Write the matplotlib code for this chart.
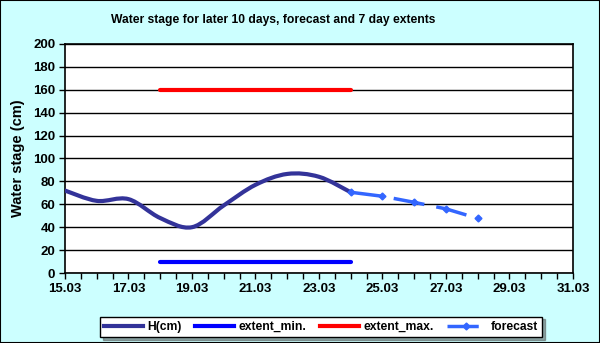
import numpy as np
import matplotlib.pyplot as plt
from matplotlib.path import Path
from matplotlib.patches import PathPatch, Rectangle
from matplotlib.lines import Line2D

plt.rcParams['font.family'] = ['Liberation Sans', 'DejaVu Sans']
plt.rcParams['font.weight'] = 'bold'

# data (day of March)
days_h = [15, 16, 17, 18, 19, 20, 21, 22, 23, 24]
h_cm = [72, 63, 64.5, 48, 40, 59, 77, 86.5, 84, 70.5]

ext_days = [18, 24]
ext_min = [10, 10]
ext_max = [160, 160]

days_fc = [24, 25, 26, 27, 28]
forecast = [70.5, 67, 61.7, 56, 47.7]

xtick_days = [15, 17, 19, 21, 23, 25, 27, 29, 31]
xtick_labels = ['15.03', '17.03', '19.03', '21.03', '23.03', '25.03', '27.03', '29.03', '31.03']
yticks = list(range(0, 201, 20))


def smooth_path(xs, ys, t=1/6):
    # Excel-like smoothed line as cubic bezier segments
    pts = np.column_stack([xs, ys]).astype(float)
    n = len(pts)
    verts = [pts[0]]
    codes = [Path.MOVETO]
    for i in range(n - 1):
        p0 = pts[i - 1] if i > 0 else pts[i]
        p1, p2 = pts[i], pts[i + 1]
        p3 = pts[i + 2] if i + 2 < n else pts[i + 1]
        c1 = p1 + (p2 - p0) * t
        c2 = p2 - (p3 - p1) * t
        verts += [c1, c2, p2]
        codes += [Path.CURVE4] * 3
    return Path(verts, codes)


fig = plt.figure(figsize=(6, 3.43), dpi=100, facecolor='#ccffff')
fig.patches.append(Rectangle((0, 0), 1, 1, transform=fig.transFigure, fill=False,
                             edgecolor='black', linewidth=1.5))
ax = fig.add_axes([0.1083, 0.204, 0.8467, 0.668])

ax.add_patch(PathPatch(smooth_path(days_h, h_cm), facecolor='none',
                       edgecolor='#333399', linewidth=3, capstyle='round', zorder=4))
ax.plot(ext_days, ext_min, color='#0000ff', linewidth=3, solid_capstyle='round', zorder=3)
ax.plot(ext_days, ext_max, color='#ff0000', linewidth=3, solid_capstyle='round', zorder=3)
ax.plot(days_fc, forecast, color='#3366ff', linewidth=2.5, dashes=(9, 3.5),
        marker='D', markersize=3.5, zorder=5)

ax.set_xlim(15, 31)
ax.set_ylim(0, 200)
ax.set_xticks(xtick_days)
ax.set_xticklabels(xtick_labels)
ax.set_xticks(np.arange(15, 31.01, 0.5), minor=True)
ax.set_yticks(yticks)
ax.tick_params(axis='both', which='both', direction='out', length=4, width=1,
               labelsize=9.5, pad=3)
ax.grid(axis='y', color='black', linewidth=1)
ax.set_axisbelow(True)
for s in ax.spines.values():
    s.set_linewidth(1.2)

ax.set_ylabel('Water stage (cm)', fontsize=10.5, fontweight='bold', labelpad=6)
fig.text(0.455, 0.942, 'Water stage for later 10 days, forecast and 7 day extents',
         ha='center', va='center', fontsize=8.7, fontweight='bold')

handles = [
    Line2D([], [], color='#333399', linewidth=3),
    Line2D([], [], color='#0000ff', linewidth=3),
    Line2D([], [], color='#ff0000', linewidth=3),
    Line2D([], [], color='#3366ff', linewidth=2.5, dashes=(9, 3.5), marker='D', markersize=3.5),
]
leg = fig.legend(handles, ['H(cm)', 'extent_min.', 'extent_max.', 'forecast'],
                 loc='center', bbox_to_anchor=(0.535, 0.047), ncol=4, fontsize=8.7,
                 frameon=True, fancybox=False, shadow=True, handlelength=3.2,
                 columnspacing=1.1, handletextpad=0.4, borderpad=0.35)
leg.get_frame().set_edgecolor('black')
leg.get_frame().set_linewidth(1)

fig.savefig('out.png', dpi=100, facecolor=fig.get_facecolor())
